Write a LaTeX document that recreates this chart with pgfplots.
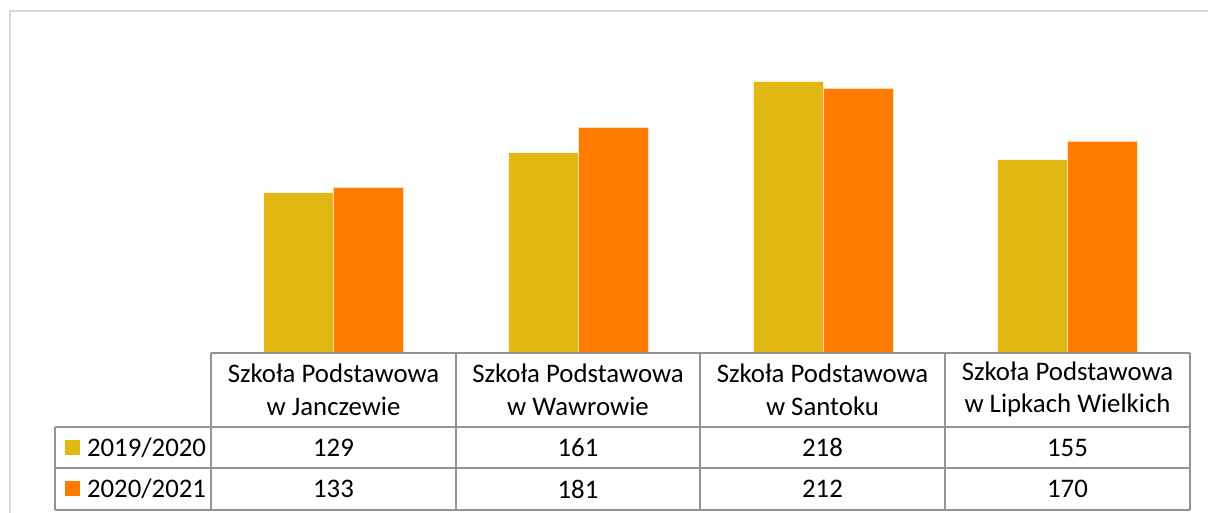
\documentclass[border=0pt]{standalone}
\usepackage{fontspec}
\setmainfont{Carlito}
\usepackage{pgfplots}
\pgfplotsset{compat=1.18}
\definecolor{yel}{HTML}{E1B813}
\definecolor{org}{HTML}{FF7C00}
\definecolor{grd}{HTML}{939393}
\definecolor{frm}{HTML}{D9D9D9}
\begin{document}
\begin{tikzpicture}[x=1pt,y=1pt]
\useasboundingbox (0,0) rectangle (604,256.5);
\draw[frm, line width=0.8pt] (5,0) -- (5,251) -- (604,251);
\begin{axis}[
    at={(105.5pt,80pt)}, anchor=south west,
    scale only axis, width=489.5pt, height=156pt,
    xmin=-0.5, xmax=3.5, ymin=0, ymax=250,
    ybar=0pt, bar width=35pt,
    hide axis, clip=false,
]
\addplot[fill=yel, draw=white!85!yel, line width=0.3pt] coordinates {(0,129) (1,161) (2,218) (3,155)};
\addplot[fill=org, draw=white!75!org, line width=0.3pt] coordinates {(0,133) (1,181) (2,212) (3,170)};
\end{axis}
% data table
\begin{scope}[grd, line width=1pt]
\draw (105.5,80) -- (595,80);
\draw (27.5,43) -- (595,43);
\draw (27.5,22.5) -- (595,22.5);
\draw (27.5,1.5) -- (595,1.5);
\draw (27.5,43) -- (27.5,1.5);
\foreach \x in {105.5,228,350,472.5,595} \draw (\x,80) -- (\x,1.5);
\end{scope}
\begin{scope}[every node/.style={font=\fontsize{13.4}{16.2}\selectfont, text=black, inner sep=0pt}]
\node[align=center] at (166.75,61.7) {Szkoła Podstawowa\\w Janczewie};
\node[align=center] at (289,61.7) {Szkoła Podstawowa\\w Wawrowie};
\node[align=center] at (411.25,61.7) {Szkoła Podstawowa\\w Santoku};
\node[align=center] at (533.75,61.7) {Szkoła Podstawowa\\w Lipkach Wielkich};
\fill[yel] (32.5,29) rectangle (40,36.5);
\fill[org] (32.5,8.25) rectangle (40,15.75);
\node[anchor=west] at (43.3,32.75) {2019/2020};
\node[anchor=west] at (43.3,12) {2020/2021};
\node at (166.75,32.75) {129};
\node at (289,32.75) {161};
\node at (411.25,32.75) {218};
\node at (533.75,32.75) {155};
\node at (166.75,12) {133};
\node at (289,12) {181};
\node at (411.25,12) {212};
\node at (533.75,12) {170};
\end{scope}
\end{tikzpicture}
\end{document}
